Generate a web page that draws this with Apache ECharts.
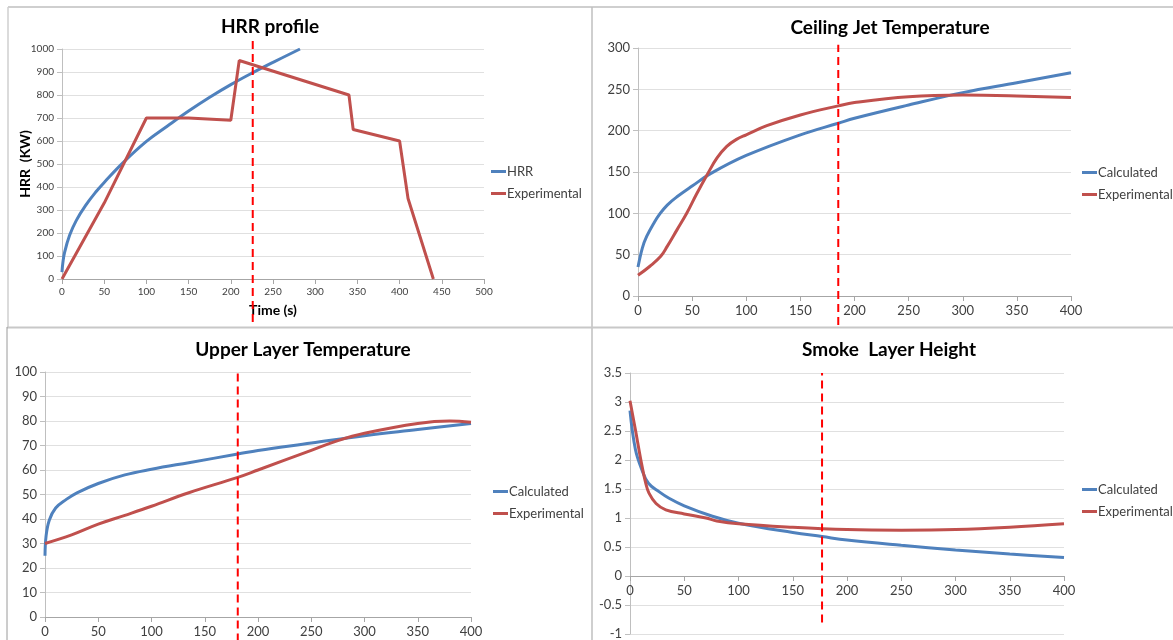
<!DOCTYPE html>
<html>
<head>
<meta charset="utf-8">
<script src="https://cdn.jsdelivr.net/npm/echarts@6/dist/echarts.min.js"></script>
<style>
html,body{margin:0;padding:0;background:#fff;}
#c{width:1173px;height:640px;}
</style>
</head>
<body>
<div id="c"></div>
<script>
// ---- Data ----
const hrrCalcT = [0, 1, 3, 9, 17, 28, 40, 50, 73, 100, 125, 150, 175, 200, 225, 250, 282];
const hrrCalcV = [30, 70, 115, 190, 255, 320, 378, 420, 508, 598, 665, 730, 790, 845, 895, 942, 1000];
const hrrExpT = [0, 50, 100, 150, 200, 210, 340, 345, 400, 410, 440];
const hrrExpV = [0, 330, 700, 700, 690, 950, 800, 650, 600, 350, 0];

const cjCalcT = [0, 4, 8, 15, 20, 27, 36, 50, 67, 100, 150, 185, 200, 250, 300, 350, 400];
const cjCalcV = [35, 58, 72, 89, 99, 110, 120, 133, 148, 170, 195, 209, 215, 231, 246, 258, 270];
const cjExpT = [0, 11, 21, 27, 36, 45, 54, 64, 73, 82, 91, 100, 119, 150, 185, 200, 250, 300, 350, 400];
const cjExpV = [25, 36, 48, 60, 80, 100, 123, 147, 167, 181, 189.5, 195, 206, 219, 230, 234, 241, 243, 242, 240];

const ulCalcT = [0, 1, 4, 10, 20, 30, 50, 75, 100, 135, 181, 200, 250, 300, 350, 400];
const ulCalcV = [25, 33, 39.5, 44.5, 48, 50.7, 54.5, 58, 60.3, 63, 66.5, 68, 71, 74, 76.5, 79];
const ulExpT = [0, 25, 50, 75, 100, 135, 181, 200, 250, 275, 300, 350, 380, 400];
const ulExpV = [30, 33.5, 37.9, 41.5, 45.2, 50.7, 57, 60, 68, 72, 75, 79, 80, 79.5];

const slCalcT = [0, 5, 11, 17, 27, 36, 50, 76, 100, 150, 177, 200, 250, 300, 350, 400];
const slCalcV = [2.85, 2.18, 1.83, 1.6, 1.45, 1.34, 1.21, 1.03, 0.91, 0.75, 0.68, 0.62, 0.53, 0.45, 0.38, 0.32];
const slExpT = [0, 5, 10, 14.5, 17.5, 24, 33, 50, 70, 80, 100, 150, 200, 250, 300, 350, 400];
const slExpV = [3.02, 2.52, 2.0, 1.6, 1.43, 1.25, 1.14, 1.07, 1.0, 0.95, 0.9, 0.84, 0.8, 0.79, 0.8, 0.84, 0.9];

// vertical marker times and the value range each dashed line spans
const markerT = [226, 185, 181, 177];
const markerSpan = [[-187, 1039], [-35, 304], [-10, 101], [-0.8, 3.5]];

const titles = ['HRR profile', 'Ceiling Jet Temperature', 'Upper Layer Temperature', 'Smoke  Layer Height'];
const calcNames = ['HRR', 'Calculated', 'Calculated', 'Calculated'];
const expName = 'Experimental';

// ---- Styles ----
const BLUE = '#4F81BD', RED = '#C0504D';
const FONT = 'Lato, "Liberation Sans", sans-serif';
const zip = (a, b) => a.map((v, i) => [v, b[i]]);

const grids = [
  {left: 62, top: 49, width: 422, height: 230},
  {left: 638, top: 48, width: 433, height: 248},
  {left: 45, top: 372, width: 426, height: 245},
  {left: 630, top: 373, width: 434, height: 261}
].map(g => Object.assign(g, {outerBoundsMode: 'none', containLabel: false}));
const xMax = [500, 400, 400, 400];
const yCfg = [[0, 1000, 100], [0, 300, 50], [0, 100, 10], [-1, 3.5, 0.5]];
const xOffset = [0, 0, 0, -58];
const titlePos = [[265, 12], [885, 13], [298, 335], [884, 335]];
const legendPos = [[491, 165], [1082, 166], [493, 485], [1082, 483]];

const calcData = [zip(hrrCalcT, hrrCalcV), zip(cjCalcT, cjCalcV), zip(ulCalcT, ulCalcV), zip(slCalcT, slCalcV)];
const expData = [zip(hrrExpT, hrrExpV), zip(cjExpT, cjExpV), zip(ulExpT, ulExpV), zip(slExpT, slExpV)];

const xAxis = [], yAxis = [], series = [], title = [], legend = [];
for (let i = 0; i < 4; i++) {
  xAxis.push({
    type: 'value', gridIndex: i, min: 0, max: xMax[i], interval: 50, offset: xOffset[i],
    axisLine: {show: true, onZero: false, lineStyle: {color: '#A6A6A6', width: 1}},
    axisTick: {show: true, length: 5, lineStyle: {color: '#A6A6A6'}},
    splitLine: {show: false},
    axisLabel: {color: '#404040', fontSize: i === 0 ? 10 : 13, fontFamily: FONT, margin: 8,
      formatter: v => String(v)},
    name: i === 0 ? 'Time (s)' : '', nameLocation: 'middle', nameGap: 24, nameMoveOverlap: false,
    nameTextStyle: {fontWeight: 'bold', fontSize: 14, color: '#000', fontFamily: FONT}
  });
  yAxis.push({
    type: 'value', gridIndex: i, min: yCfg[i][0], max: yCfg[i][1], interval: yCfg[i][2],
    axisLine: {show: true, onZero: false, lineStyle: {color: '#BFBFBF', width: 1}},
    axisTick: {show: true, length: 5, lineStyle: {color: '#BFBFBF'}},
    splitLine: {show: true, lineStyle: {color: '#E0E0E0', width: 1}},
    axisLabel: {color: '#404040', fontSize: i === 0 ? 10 : 13, fontFamily: FONT, margin: 8,
      formatter: v => String(v)},
    name: i === 0 ? 'HRR  (KW)' : '', nameLocation: 'middle', nameGap: 30, nameRotate: 90,
    nameMoveOverlap: false,
    nameTextStyle: {fontWeight: 'bold', fontSize: 14, color: '#000', fontFamily: FONT}
  });
  title.push({
    text: titles[i], left: titlePos[i][0], top: titlePos[i][1], textAlign: 'center',
    textStyle: {fontSize: 19, fontWeight: 'bold', color: '#000', fontFamily: FONT}
  });
  legend.push({
    data: [calcNames[i], expName], orient: 'vertical', left: legendPos[i][0], top: legendPos[i][1],
    padding: 0, icon: 'rect', itemWidth: 15, itemHeight: 3, itemGap: 9, selectedMode: false,
    textStyle: {fontSize: 13, color: '#404040', fontFamily: FONT, padding: [0, 0, 0, -4]}
  });
  series.push({
    name: calcNames[i], type: 'line', xAxisIndex: i, yAxisIndex: i, data: calcData[i],
    smooth: 0.4, showSymbol: false, symbol: 'none',
    lineStyle: {color: BLUE, width: 3}, itemStyle: {color: BLUE}, z: 3
  });
  series.push({
    name: expName, type: 'line', xAxisIndex: i, yAxisIndex: i, data: expData[i],
    smooth: i === 0 ? false : 0.4, showSymbol: false, symbol: 'none',
    lineStyle: {color: RED, width: 3}, itemStyle: {color: RED}, z: 4
  });
  series.push({
    name: 'marker' + i, type: 'line', xAxisIndex: i, yAxisIndex: i, clip: false,
    data: [[markerT[i], markerSpan[i][0]], [markerT[i], markerSpan[i][1]]],
    showSymbol: false, symbol: 'none', silent: true,
    lineStyle: {color: '#FF0000', width: 2, type: [8, 5]}, z: 5
  });
}

const chart = echarts.init(document.getElementById('c'), null, {renderer: 'canvas'});
chart.setOption({
  animation: false,
  backgroundColor: '#fff',
  grid: grids,
  xAxis, yAxis, series, title, legend,
  graphic: [
    {type: 'line', shape: {x1: 8, y1: 7, x2: 1173, y2: 7}, style: {stroke: '#BFBFBF', lineWidth: 1.5}},
    {type: 'line', shape: {x1: 8, y1: 7, x2: 8, y2: 327}, style: {stroke: '#CFCFCF', lineWidth: 1.5}},
    {type: 'line', shape: {x1: 592, y1: 7, x2: 592, y2: 640}, style: {stroke: '#BFBFBF', lineWidth: 1.5}},
    {type: 'line', shape: {x1: 7, y1: 327.5, x2: 1173, y2: 327.5}, style: {stroke: '#C8C8C8', lineWidth: 2}},
    {type: 'line', shape: {x1: 7, y1: 327, x2: 7, y2: 640}, style: {stroke: '#9A9A9A', lineWidth: 1}}
  ]
});
</script>
</body>
</html>
